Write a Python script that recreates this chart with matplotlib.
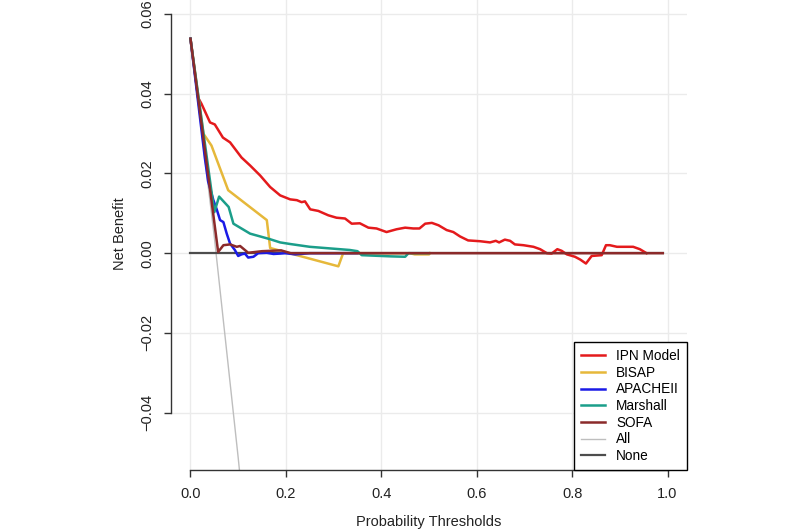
import matplotlib
matplotlib.use("Agg")
import matplotlib.pyplot as plt

plt.rcParams['font.family'] = ['Liberation Sans', 'DejaVu Sans']

# ---- data ----
ipn_x = [0, 0.016, 0.023, 0.041, 0.051, 0.068, 0.083, 0.107, 0.125, 0.146, 0.167,
         0.188, 0.209, 0.223, 0.233, 0.240, 0.251, 0.268, 0.289, 0.306, 0.324, 0.338,
         0.355, 0.373, 0.390, 0.411, 0.432, 0.450, 0.467, 0.480, 0.492, 0.506, 0.520,
         0.537, 0.551, 0.565, 0.582, 0.607, 0.628, 0.640, 0.647, 0.659, 0.670, 0.680,
         0.698, 0.719, 0.733, 0.747, 0.757, 0.769, 0.778, 0.789, 0.806, 0.817, 0.829,
         0.841, 0.862, 0.871, 0.879, 0.894, 0.928, 0.942, 0.956]
ipn_y = [0.0538, 0.0390, 0.0375, 0.0328, 0.0323, 0.0290, 0.0278, 0.0240, 0.0220, 0.0195, 0.0166,
         0.0145, 0.0135, 0.0133, 0.0128, 0.0130, 0.0110, 0.0106, 0.0095, 0.0089, 0.0087, 0.0074,
         0.0075, 0.0064, 0.0062, 0.0053, 0.0060, 0.0064, 0.0062, 0.0062, 0.0074, 0.0076, 0.0070,
         0.0058, 0.0053, 0.0042, 0.0032, 0.0030, 0.0027, 0.0031, 0.0027, 0.0034, 0.0031, 0.0022,
         0.0020, 0.0016, 0.0010, 0.0000, -0.0001, 0.0010, 0.0006, -0.0003, -0.0009, -0.0016, -0.0026,
         -0.0007, -0.0005, 0.0020, 0.0020, 0.0016, 0.0016, 0.0010, 0.0000]

bisap_x = [0, 0.027, 0.044, 0.079, 0.160, 0.167, 0.310, 0.320, 0.460, 0.470, 0.500, 0.502]
bisap_y = [0.0538, 0.0300, 0.0270, 0.0158, 0.0083, 0.0013, -0.0033, 0.0000, 0.0000, -0.0003, -0.0003, 0.0000]

apache_x = [0, 0.030, 0.037, 0.048, 0.055, 0.062, 0.069, 0.076, 0.083, 0.093, 0.100, 0.107,
            0.114, 0.121, 0.132, 0.142, 0.160, 0.174, 0.188, 0.198, 0.220, 0.250, 0.300, 0.350]
apache_y = [0.0538, 0.0240, 0.0180, 0.0133, 0.0110, 0.0083, 0.0078, 0.0049, 0.0024, 0.0008, -0.0007, -0.0003,
            -0.0001, -0.0011, -0.0009, 0.0000, 0.0001, -0.0002, -0.0001, 0.0000, -0.0003, 0.0000, 0.0000, 0.0000]

marshall_x = [0, 0.050, 0.060, 0.080, 0.090, 0.125, 0.167, 0.188, 0.209, 0.250, 0.292, 0.334,
              0.350, 0.359, 0.420, 0.450, 0.457, 0.500]
marshall_y = [0.0538, 0.0103, 0.0142, 0.0116, 0.0074, 0.0049, 0.0035, 0.0027, 0.0023, 0.0016, 0.0012, 0.0008,
              0.0005, -0.0005, -0.0008, -0.0009, 0.0000, 0.0000]

sofa_x = [0, 0.058, 0.069, 0.083, 0.097, 0.104, 0.114, 0.121, 0.150, 0.190, 0.210, 0.990]
sofa_y = [0.0538, 0.0003, 0.0020, 0.0022, 0.0016, 0.0018, 0.0008, 0.0001, 0.0005, 0.0007, 0.0000, 0.0000]

all_x = [0, 0.05, 0.10, 0.12]
all_y = [0.0538, 0.0040, -0.0513, -0.0750]

none_x = [0, 0.99]
none_y = [0, 0]

labels = ["IPN Model", "BISAP", "APACHEII", "Marshall", "SOFA", "All", "None"]
colors = ["#E41A1C", "#E6B83A", "#1A1AE6", "#1B9E8A", "#8B2A2A", "#BEBEBE", "#4D4D4D"]
widths = [1.8, 1.8, 1.8, 1.8, 1.8, 1.0, 1.6]
zorders = [4, 4, 4, 4, 5, 2, 3]

xticks = [0.0, 0.2, 0.4, 0.6, 0.8, 1.0]
yticks = [-0.04, -0.02, 0.00, 0.02, 0.04, 0.06]

fig = plt.figure(figsize=(8, 5.3), dpi=100)
ax = fig.add_axes([171.4/800, 1-470/530, (686.6-171.4)/800, (470+3.5)/530])

series = [(ipn_x, ipn_y), (bisap_x, bisap_y), (apache_x, apache_y), (marshall_x, marshall_y),
          (sofa_x, sofa_y), (all_x, all_y), (none_x, none_y)]
for (xs, ys), lab, c, w, z in zip(series, labels, colors, widths, zorders):
    ax.plot(xs, ys, color=c, lw=w, label=lab, zorder=z, solid_joinstyle='round')

ax.set_xlim(-0.04, 1.04)
ax.set_ylim(-0.0544, 0.0644)

for v in xticks:
    ax.axvline(v, color='#EBEBEB', lw=1, zorder=0)
for v in yticks:
    ax.axhline(v, color='#EBEBEB', lw=1, zorder=0)

ax.set_xticks(xticks)
ax.set_xticklabels([f"{v:.1f}" for v in xticks])
ax.set_yticks(yticks)
ax.set_yticklabels([f"{v:.2f}".replace('-', '\u2212') for v in yticks], rotation=90, va='center')

for s in ['top', 'right']:
    ax.spines[s].set_visible(False)
ax.spines['left'].set_bounds(-0.04, 0.06)
ax.spines['bottom'].set_bounds(0, 1)
for s in ['left', 'bottom']:
    ax.spines[s].set_color('#333333')
    ax.spines[s].set_linewidth(1.0)

ax.tick_params(axis='both', direction='out', length=5, width=1.0, color='#333333',
               labelsize=10.5, labelcolor='#222222')
ax.tick_params(axis='x', pad=7)
ax.tick_params(axis='y', pad=7)

ax.set_xlabel("Probability Thresholds", fontsize=10.5, color='#222222', labelpad=10)
ax.set_ylabel("Net Benefit", fontsize=10.5, color='#222222', labelpad=10)

leg = ax.legend(loc='lower right', borderaxespad=0, fontsize=9.8, frameon=True,
                fancybox=False, framealpha=1, edgecolor='black', handlelength=1.8,
                handletextpad=0.8, labelspacing=0.2, borderpad=0.5)
leg.get_frame().set_linewidth(1.0)
leg.set_zorder(10)

fig.savefig("out.png", dpi=100)
